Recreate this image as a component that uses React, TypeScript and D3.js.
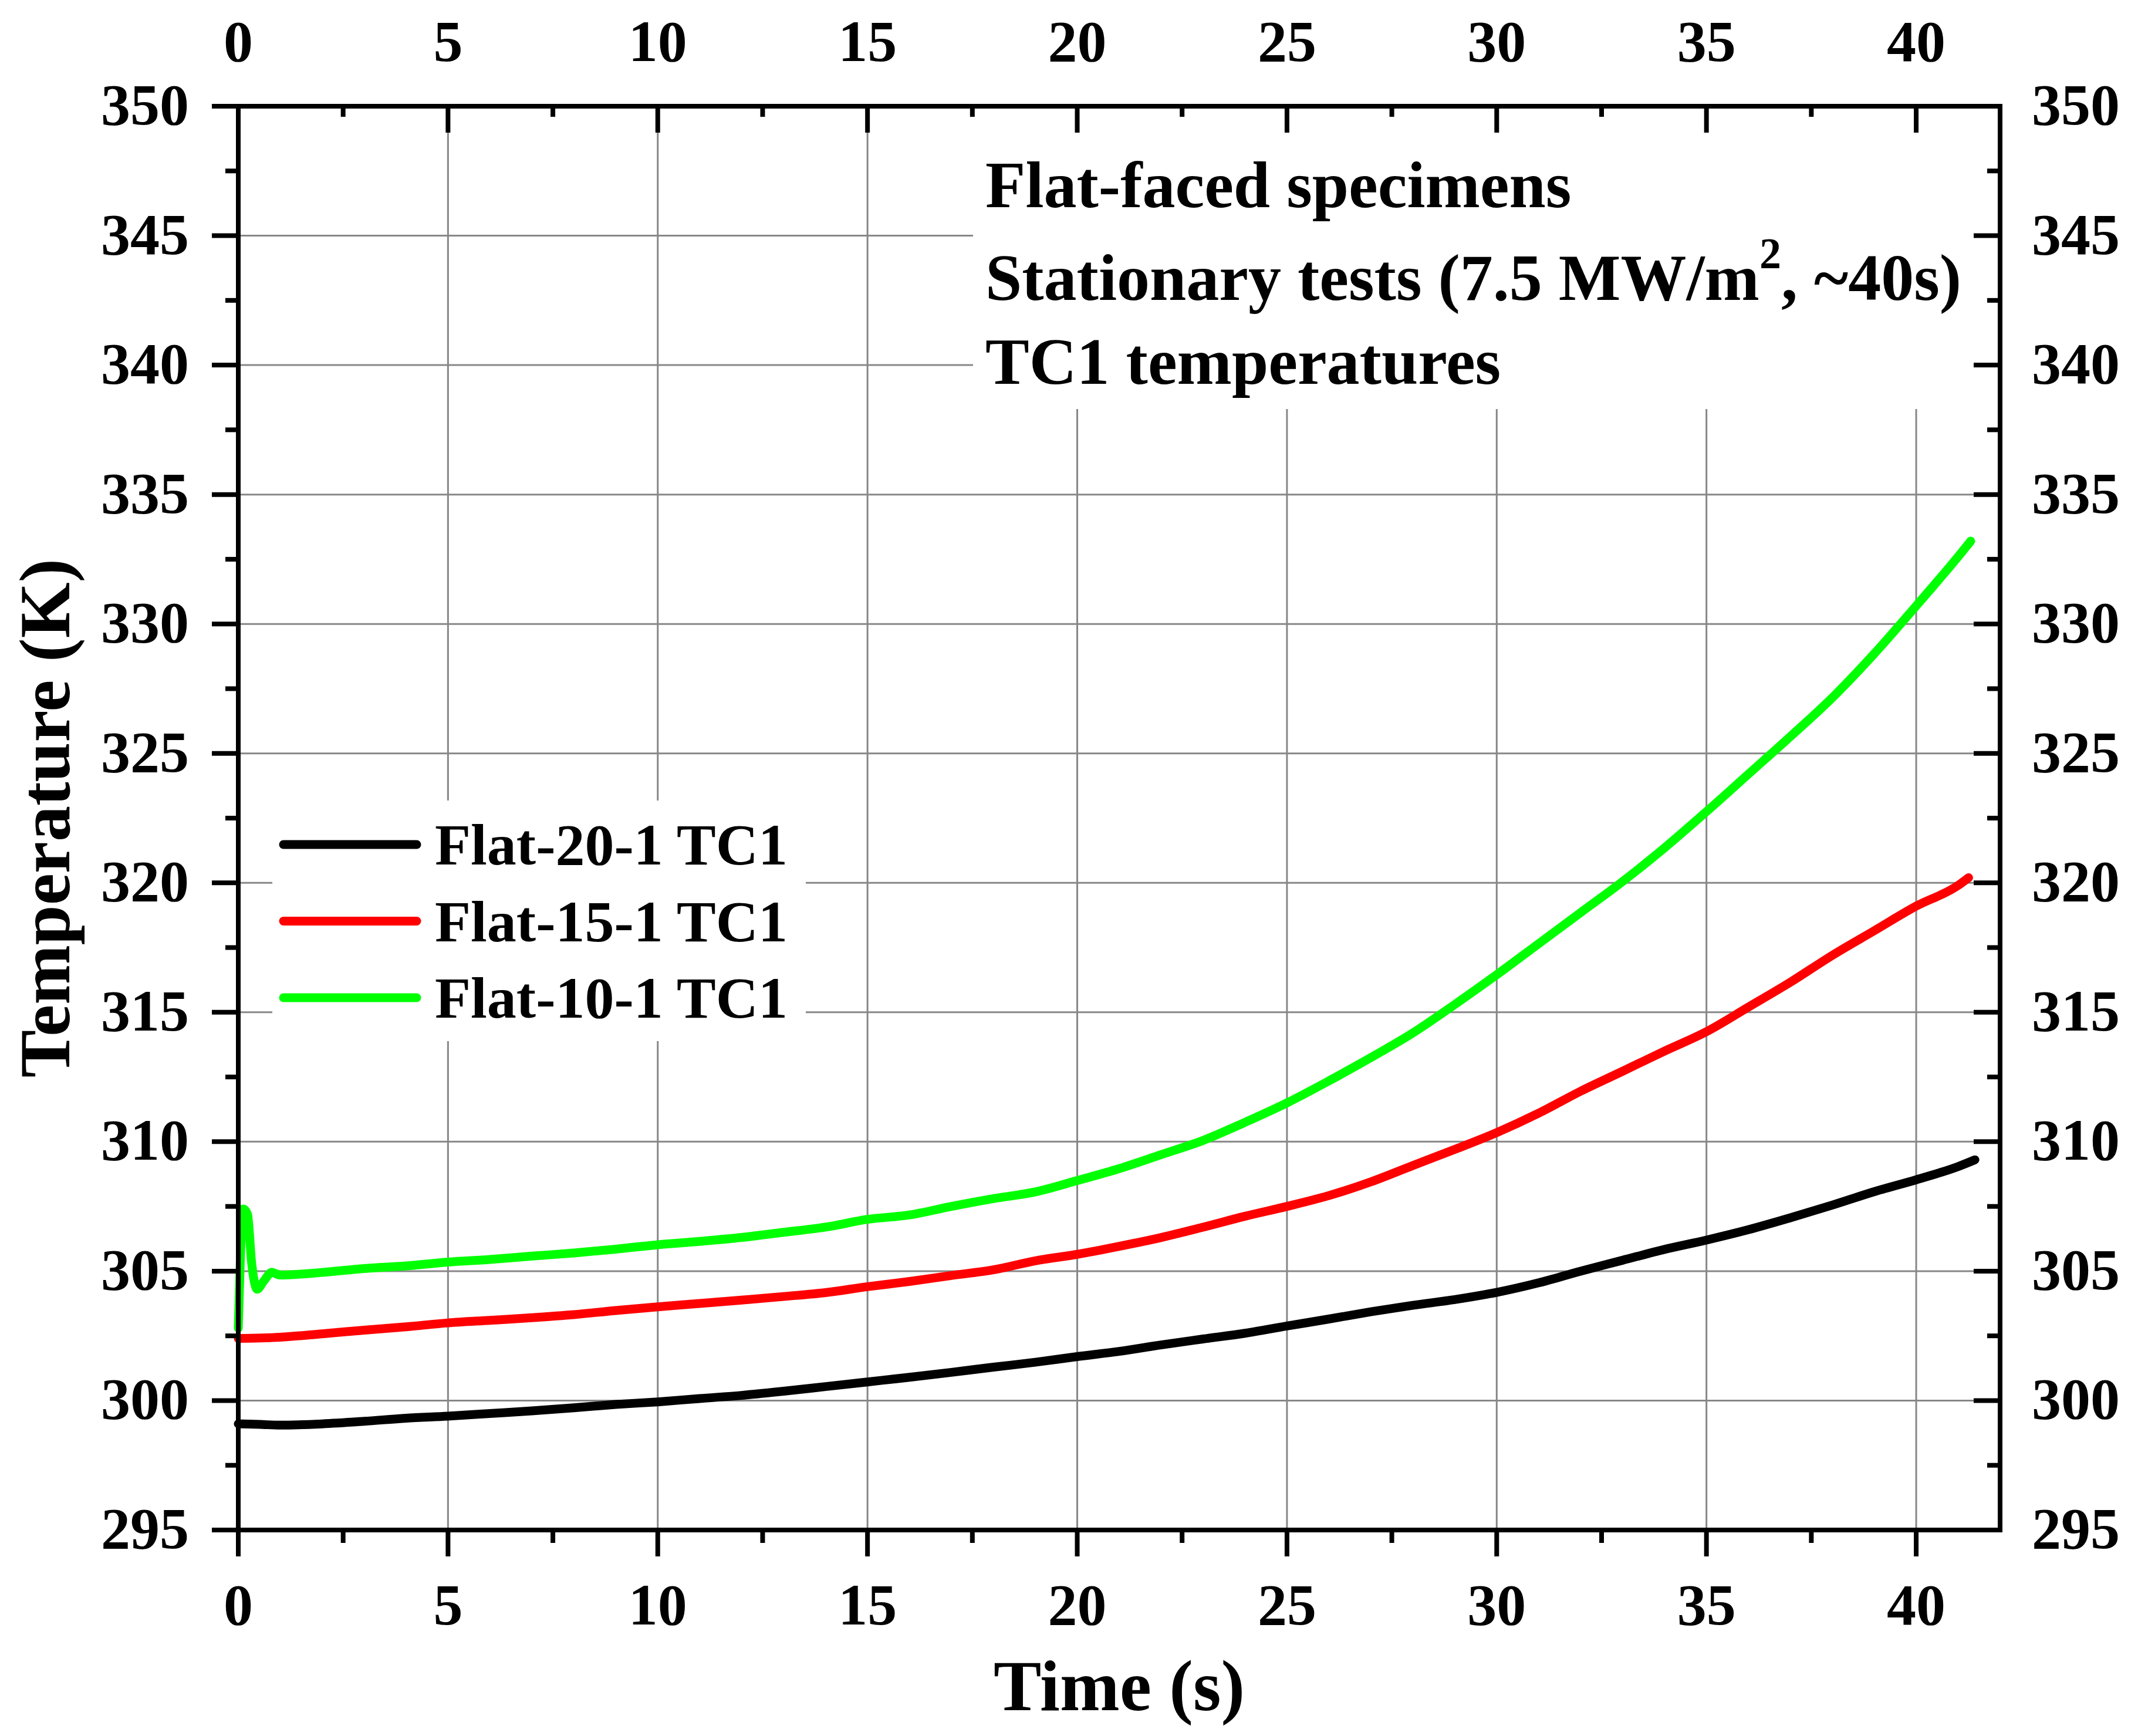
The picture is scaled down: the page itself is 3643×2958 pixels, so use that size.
import * as d3 from 'd3';

// Flat-20-1 TC1 (time s, temperature K)
const flat20Time = [0, 0.5, 1, 2, 3, 4, 5, 6, 7, 8, 9, 10, 11, 12, 13, 14, 15, 16, 17, 18, 19, 20, 21, 22, 23, 24, 25, 26, 27, 28, 29, 30, 31, 32, 33, 34, 35, 36, 37, 38, 39, 40, 41, 41.4];
const flat20Temp = [299.1, 299.08, 299.05, 299.1, 299.2, 299.32, 299.4, 299.5, 299.6, 299.72, 299.85, 299.95, 300.08, 300.2, 300.36, 300.54, 300.72, 300.9, 301.09, 301.29, 301.48, 301.7, 301.9, 302.15, 302.38, 302.6, 302.88, 303.15, 303.43, 303.68, 303.9, 304.18, 304.55, 305.0, 305.42, 305.84, 306.2, 306.6, 307.06, 307.55, 308.07, 308.53, 309.04, 309.3];

// Flat-15-1 TC1
const flat15Time = [0, 1, 2, 3, 4, 5, 6, 7, 8, 9, 10, 11, 12, 13, 14, 15, 16, 17, 18, 19, 20, 21, 22, 23, 24, 25, 26, 27, 28, 29, 30, 31, 32, 33, 34, 35, 36, 37, 38, 39, 40, 41, 41.25];
const flat15Temp = [302.4, 302.45, 302.58, 302.72, 302.85, 303.0, 303.1, 303.2, 303.32, 303.48, 303.62, 303.75, 303.88, 304.02, 304.17, 304.4, 304.6, 304.83, 305.05, 305.4, 305.65, 305.96, 306.3, 306.7, 307.12, 307.5, 307.92, 308.45, 309.08, 309.7, 310.35, 311.1, 311.95, 312.72, 313.5, 314.25, 315.2, 316.16, 317.2, 318.15, 319.1, 319.9, 320.2];

// Flat-10-1 TC1
const flat10Time = [0, 0.05, 0.12, 0.22, 0.32, 0.45, 0.6, 0.8, 1, 2, 3, 4, 5, 6, 7, 8, 9, 10, 11, 12, 13, 14, 15, 16, 17, 18, 19, 20, 21, 22, 23, 24, 25, 26, 27, 28, 29, 30, 31, 32, 33, 34, 35, 36, 37, 38, 39, 40, 41, 41.3];
const flat10Temp = [302.8, 305.5, 307.4, 307.2, 305.3, 304.3, 304.6, 304.95, 304.85, 304.95, 305.1, 305.2, 305.35, 305.45, 305.58, 305.7, 305.85, 306.02, 306.15, 306.3, 306.5, 306.7, 307.0, 307.17, 307.5, 307.8, 308.06, 308.5, 308.96, 309.5, 310.05, 310.75, 311.5, 312.35, 313.25, 314.2, 315.3, 316.45, 317.65, 318.85, 320.05, 321.35, 322.75, 324.2, 325.65, 327.15, 328.85, 330.7, 332.6, 333.2];

const seriesNames = ['Flat-20-1 TC1', 'Flat-15-1 TC1', 'Flat-10-1 TC1'];
const seriesColors = ['#000000', '#ff0000', '#00ff00'];
const seriesTimes = [flat20Time, flat15Time, flat10Time];
const seriesTemps = [flat20Temp, flat15Temp, flat10Temp];

const xTickValues = [0, 5, 10, 15, 20, 25, 30, 35, 40];
const yTickValues = [295, 300, 305, 310, 315, 320, 325, 330, 335, 340, 345, 350];
const noteLines = ['Flat-faced specimens', 'Stationary tests (7.5 MW/m', 'TC1 temperatures'];

const W = 3643;
const H = 2958;
const left = 406;
const right = 3408;
const top = 181;
const bottom = 2607;
const font = "'Liberation Serif', 'Times New Roman', serif";
const major = 45;
const minor = 22;

export default function App() {
  const x = d3.scaleLinear().domain([0, 42]).range([left, right]);
  const y = d3.scaleLinear().domain([295, 350]).range([bottom, top]);
  const line = d3
    .line<[number, number]>()
    .x((d) => x(d[0]))
    .y((d) => y(d[1]))
    .curve(d3.curveMonotoneX);

  const xMinor = d3.range(2.5, 40, 5);
  const yMinor = d3.range(297.5, 350, 5);

  return (
    <svg
      width={W}
      height={H}
      viewBox={`0 0 ${W} ${H}`}
      style={{ position: 'absolute', left: 0, top: 0, background: '#fff' }}
      fontFamily={font}
      fontWeight="bold"
    >
      <rect x={0} y={0} width={W} height={H} fill="#fff" />

      {/* grid */}
      <g stroke="#878787" strokeWidth={3}>
        {xTickValues.slice(1).map((t) => (
          <line key={`gx${t}`} x1={x(t)} x2={x(t)} y1={top} y2={bottom} />
        ))}
        {yTickValues.slice(1, -1).map((v) => (
          <line key={`gy${v}`} x1={left} x2={right} y1={y(v)} y2={y(v)} />
        ))}
      </g>

      {/* white boxes behind annotation and legend */}
      <rect x={1658} y={top} width={right - 1658} height={697 - top} fill="#fff" />
      <rect x={464} y={1364} width={1373 - 464} height={1774 - 1364} fill="#fff" />

      {/* data */}
      {seriesNames.map((name, i) => (
        <path
          key={name}
          d={line(seriesTimes[i].map((t, j) => [t, seriesTemps[i][j]] as [number, number])) ?? ''}
          fill="none"
          stroke={seriesColors[i]}
          strokeWidth={15}
          strokeLinejoin="round"
          strokeLinecap="round"
        />
      ))}

      {/* frame */}
      <rect x={left} y={top} width={right - left} height={bottom - top} fill="none" stroke="#000" strokeWidth={8} />

      {/* ticks */}
      <g stroke="#000" strokeWidth={8}>
        {xTickValues.map((t) => (
          <g key={`tx${t}`}>
            <line x1={x(t)} x2={x(t)} y1={bottom} y2={bottom + major} />
            <line x1={x(t)} x2={x(t)} y1={top} y2={top + major} />
          </g>
        ))}
        {xMinor.map((t) => (
          <g key={`mx${t}`}>
            <line x1={x(t)} x2={x(t)} y1={bottom} y2={bottom + minor} />
            <line x1={x(t)} x2={x(t)} y1={top} y2={top + minor - 4} />
          </g>
        ))}
        {yTickValues.map((v) => (
          <g key={`ty${v}`}>
            <line x1={left - major} x2={left} y1={y(v)} y2={y(v)} />
            <line x1={right - major} x2={right} y1={y(v)} y2={y(v)} />
          </g>
        ))}
        {yMinor.map((v) => (
          <g key={`my${v}`}>
            <line x1={left - minor} x2={left} y1={y(v)} y2={y(v)} />
            <line x1={right - minor} x2={right} y1={y(v)} y2={y(v)} />
          </g>
        ))}
      </g>

      {/* tick labels */}
      <g fontSize={100} fill="#000">
        {xTickValues.map((t) => (
          <g key={`lx${t}`}>
            <text x={x(t)} y={2768} textAnchor="middle">{t}</text>
            <text x={x(t)} y={104} textAnchor="middle">{t}</text>
          </g>
        ))}
        {yTickValues.map((v) => (
          <g key={`ly${v}`}>
            <text x={322} y={y(v) + 31} textAnchor="end">{v}</text>
            <text x={3462} y={y(v) + 31} textAnchor="start">{v}</text>
          </g>
        ))}
      </g>

      {/* axis titles */}
      <text x={(left + right) / 2} y={2914} textAnchor="middle" fontSize={122}>Time (s)</text>
      <text transform={`translate(118, ${(top + bottom) / 2}) rotate(-90)`} textAnchor="middle" fontSize={122}>
        Temperature (K)
      </text>

      {/* annotation */}
      <g fontSize={112}>
        <text x={1679} y={353}>{noteLines[0]}</text>
        <text x={1679} y={511}>
          {noteLines[1]}
          <tspan dy={-54} fontSize={74}>2</tspan>
          <tspan dy={54}>, ~40s)</tspan>
        </text>
        <text x={1679} y={654}>{noteLines[2]}</text>
      </g>

      {/* legend */}
      {seriesNames.map((name, i) => {
        const ly = 1439 + i * 130.5;
        return (
          <g key={`leg${name}`}>
            <line x1={483} x2={710} y1={ly} y2={ly} stroke={seriesColors[i]} strokeWidth={15} strokeLinecap="round" />
            <text x={741} y={ly + 34} fontSize={100}>{name}</text>
          </g>
        );
      })}
    </svg>
  );
}
